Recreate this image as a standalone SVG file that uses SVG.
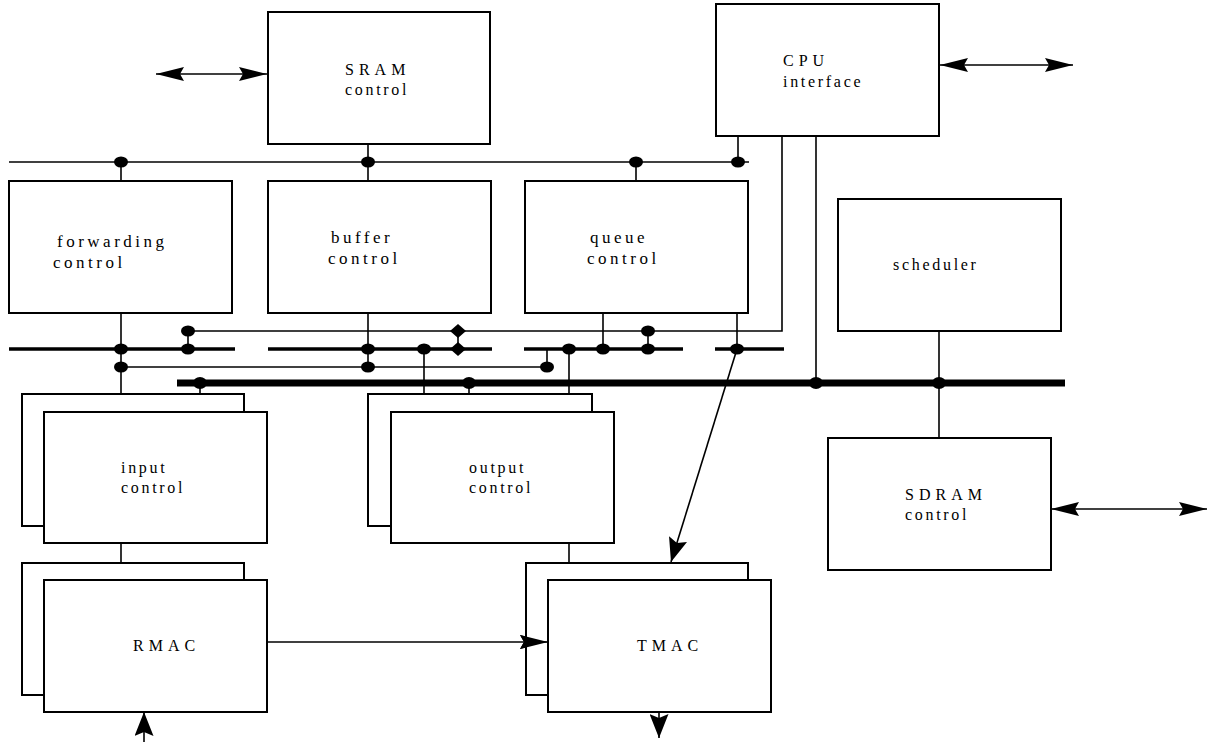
<svg xmlns="http://www.w3.org/2000/svg" width="1212" height="742" viewBox="0 0 1212 742">
<style>
.box{fill:#fff;stroke:#000;stroke-width:2}
.ln{fill:none;stroke:#000;stroke-width:1.6}
.mid{fill:none;stroke:#000;stroke-width:3.6}
.thick{fill:none;stroke:#000;stroke-width:7}
.dot{fill:#000}
text{font-family:"Liberation Serif","Times New Roman",serif;font-size:16px;fill:#000;letter-spacing:2.7px}
.cap{letter-spacing:5px}
.big{font-size:17px;letter-spacing:3.5px}
</style>
<defs>
<marker id="ah" viewBox="0 0 28 14" refX="28" refY="7" markerWidth="28" markerHeight="14" markerUnits="userSpaceOnUse" orient="auto-start-reverse">
<path d="M0,0 L28,7 L0,14 L4,7 Z" fill="#000"/>
</marker>
<marker id="as" viewBox="0 0 24 19" refX="24" refY="9.5" markerWidth="24" markerHeight="19" markerUnits="userSpaceOnUse" orient="auto-start-reverse">
<path d="M0,0 L24,9.5 L0,19 L4,9.5 Z" fill="#000"/>
</marker>
</defs>
<rect width="1212" height="742" fill="#fff"/>

<g id="connectors">
<line class="ln" x1="156" y1="74" x2="267" y2="74" marker-start="url(#ah)" marker-end="url(#ah)"/>
<line class="ln" x1="940" y1="65" x2="1073" y2="65" marker-start="url(#ah)" marker-end="url(#ah)"/>
<line class="ln" x1="1051" y1="509" x2="1207" y2="509" marker-start="url(#ah)" marker-end="url(#ah)"/>
<line class="ln" x1="9" y1="162" x2="749" y2="162"/>
<line class="ln" x1="368" y1="144" x2="368" y2="181"/>
<line class="ln" x1="121" y1="162" x2="121" y2="181"/>
<line class="ln" x1="636" y1="162" x2="636" y2="181"/>
<line class="ln" x1="738" y1="136" x2="738" y2="162"/>
<polyline class="ln" points="782,136 782,331 188,331"/>
<line class="ln" x1="816" y1="136" x2="816" y2="383"/>
<line class="mid" x1="9" y1="349" x2="235" y2="349"/>
<line class="mid" x1="268" y1="349" x2="492" y2="349"/>
<line class="mid" x1="524" y1="349" x2="683" y2="349"/>
<line class="mid" x1="715" y1="349" x2="784" y2="349"/>
<line class="ln" x1="121" y1="313" x2="121" y2="394"/>
<line class="ln" x1="188" y1="331" x2="188" y2="349"/>
<line class="ln" x1="368" y1="313" x2="368" y2="367"/>
<line class="ln" x1="121" y1="367" x2="547" y2="367"/>
<line class="ln" x1="424" y1="349" x2="424" y2="394"/>
<line class="ln" x1="458" y1="331" x2="458" y2="349"/>
<line class="ln" x1="469" y1="383" x2="469" y2="394"/>
<line class="ln" x1="547" y1="349" x2="547" y2="367"/>
<line class="ln" x1="569" y1="349" x2="569" y2="394"/>
<line class="ln" x1="603" y1="313" x2="603" y2="349"/>
<line class="ln" x1="648" y1="331" x2="648" y2="349"/>
<line class="ln" x1="737" y1="313" x2="737" y2="349"/>
<line class="ln" x1="737" y1="349" x2="671" y2="562" marker-end="url(#as)"/>
<line class="thick" x1="177" y1="383" x2="1065" y2="383"/>
<line class="ln" x1="200" y1="383" x2="200" y2="394"/>
<line class="ln" x1="939" y1="331" x2="939" y2="438"/>
<line class="ln" x1="121" y1="543" x2="121" y2="563"/>
<line class="ln" x1="569" y1="543" x2="569" y2="563"/>
<line class="ln" x1="144" y1="742" x2="144" y2="712" marker-end="url(#as)"/>
<line class="ln" x1="659" y1="712" x2="659" y2="738" marker-end="url(#as)"/>
<g class="dot">
<ellipse cx="121" cy="162" rx="7" ry="5.5"/>
<ellipse cx="368" cy="162" rx="7" ry="5.5"/>
<ellipse cx="636" cy="162" rx="7" ry="5.5"/>
<ellipse cx="738" cy="162" rx="7" ry="5.5"/>
<ellipse cx="121" cy="349" rx="7" ry="5.5"/>
<ellipse cx="121" cy="367" rx="7" ry="5.5"/>
<ellipse cx="188" cy="331" rx="7" ry="5.5"/>
<ellipse cx="188" cy="349" rx="7" ry="5.5"/>
<ellipse cx="368" cy="349" rx="7" ry="5.5"/>
<ellipse cx="368" cy="367" rx="7" ry="5.5"/>
<ellipse cx="424" cy="349" rx="7" ry="5.5"/>
<ellipse cx="547" cy="367" rx="7" ry="5.5"/>
<ellipse cx="569" cy="349" rx="7" ry="5.5"/>
<ellipse cx="603" cy="349" rx="7" ry="5.5"/>
<ellipse cx="648" cy="331" rx="7" ry="5.5"/>
<ellipse cx="648" cy="349" rx="7" ry="5.5"/>
<ellipse cx="737" cy="349" rx="7" ry="5.5"/>
<ellipse cx="200" cy="383" rx="7" ry="6"/>
<ellipse cx="469" cy="383" rx="7" ry="6"/>
<ellipse cx="816" cy="383" rx="7" ry="6"/>
<ellipse cx="939" cy="383" rx="7" ry="6"/>
<polygon points="450,331 458,324 466,331 458,338"/>
<polygon points="450,349 458,342 466,349 458,356"/>
</g>
<line class="ln" x1="267" y1="642" x2="548" y2="642" marker-end="url(#ah)"/>
</g>

<g id="sram">
<rect class="box" x="268" y="12" width="222" height="132"/>
<text x="345" y="75" class="cap">SRAM</text>
<text x="345" y="95">control</text>
</g>
<g id="cpu">
<rect class="box" x="716" y="4" width="223" height="132"/>
<text x="783" y="66" class="cap">CPU</text>
<text x="783" y="87">interface</text>
</g>
<g id="forwarding">
<rect class="box" x="9" y="181" width="223" height="132"/>
<text x="57" y="247" class="big">forwarding</text>
<text x="53" y="268" class="big">control</text>
</g>
<g id="buffer">
<rect class="box" x="268" y="181" width="223" height="132"/>
<text x="331" y="243" class="big">buffer</text>
<text x="328" y="264" class="big">control</text>
</g>
<g id="queue">
<rect class="box" x="525" y="181" width="223" height="132"/>
<text x="590" y="243" class="big">queue</text>
<text x="587" y="264" class="big">control</text>
</g>
<g id="scheduler">
<rect class="box" x="838" y="199" width="223" height="132"/>
<text x="893" y="270">scheduler</text>
</g>
<g id="sdram">
<rect class="box" x="828" y="438" width="223" height="132"/>
<text x="905" y="500" class="cap">SDRAM</text>
<text x="905" y="520">control</text>
</g>
<g id="input">
<rect class="box" x="22" y="394" width="222" height="132"/>
<rect class="box" x="44" y="412" width="223" height="131"/>
<text x="121" y="473">input</text>
<text x="121" y="493">control</text>
</g>
<g id="output">
<rect class="box" x="368" y="394" width="224" height="132"/>
<rect class="box" x="391" y="412" width="223" height="131"/>
<text x="469" y="473">output</text>
<text x="469" y="493">control</text>
</g>
<g id="rmac">
<rect class="box" x="22" y="563" width="222" height="132"/>
<rect class="box" x="44" y="580" width="223" height="132"/>
<text x="133" y="651" class="cap">RMAC</text>
</g>
<g id="tmac">
<rect class="box" x="526" y="563" width="222" height="132"/>
<rect class="box" x="548" y="580" width="223" height="132"/>
<text x="637" y="651" class="cap">TMAC</text>
</g>
<line class="ln" x1="526" y1="642" x2="548" y2="642" marker-end="url(#ah)"/>
</svg>
